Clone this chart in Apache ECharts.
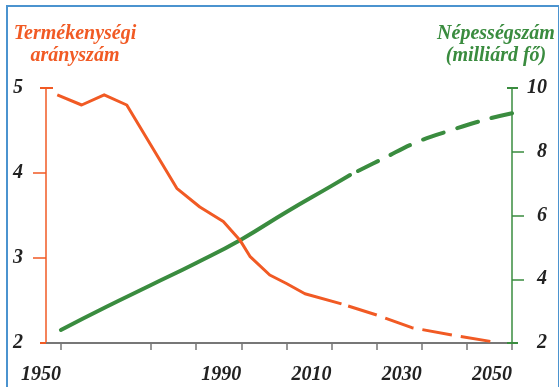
<!DOCTYPE html>
<html>
<head>
<meta charset="utf-8">
<script src="https://cdn.jsdelivr.net/npm/echarts@6/dist/echarts.min.js"></script>
<style>
  html, body { margin: 0; padding: 0; background: #fff; }
  #chart { position: absolute; left: 0; top: 0; width: 559px; height: 387px; }
  #frame { position: absolute; left: 6px; top: 5px; width: 550px; height: 400px;
           border: 2px solid #4b93cf; border-bottom: none; pointer-events: none; }
</style>
</head>
<body>
<div id="chart"></div>
<div id="frame"></div>
<script>
// Fertility rate (left axis) — observed and projected
var fertYears      = [1949.2, 1954.6, 1959.6, 1964.6, 1975.7, 1980.8, 1986.0, 1989.7, 1991.9, 1996.3, 2000.0, 2004.1, 2012.2];
var fertValues     = [4.92,   4.80,   4.92,   4.80,   3.82,   3.60,   3.43,   3.21,   3.02,   2.80,   2.70,   2.58,   2.46];
var fertProjYears  = [2012.2, 2020.0, 2027.8, 2037.0, 2045.7];
var fertProjValues = [2.46,   2.33,   2.18,   2.09,   2.015];

// Population, billions (right axis) — observed and projected
var popYears      = [1950.0, 1960.0, 1970.0, 1980.0, 1990.0, 2000.0, 2010.0, 2014.1];
var popValues     = [2.41,   3.13,   3.82,   4.51,   5.25,   6.11,   6.93,   7.27];
var popProjYears  = [2014.1, 2021.5, 2029.2, 2036.6, 2044.4, 2050.0];
var popProjValues = [7.27,   7.79,   8.32,   8.68,   9.02,   9.21];

var xTickYears  = [1950, 1970, 1980, 1990, 2000, 2010, 2020, 2030, 2040, 2050];
var xLabelYears = [1950, 1990, 2010, 2030, 2050];
var leftTicks   = [3, 4];
var rightTicks  = [4, 6, 8];

function pairs(xs, ys) { return xs.map(function (x, i) { return [x, ys[i]]; }); }

var ORANGE = '#f15a24', GREEN = '#3a8c3f';
var numFont = { fontFamily: 'Liberation Serif', fontStyle: 'italic', fontWeight: 'bold', fontSize: 20, color: '#222' };

var chart = echarts.init(document.getElementById('chart'), null, { renderer: 'canvas' });
chart.setOption({
  animation: false,
  backgroundColor: '#fff',
  title: [
    { text: 'Termékenységi\narányszám', left: 75, top: 23, textAlign: 'center', padding: 0,
      textStyle: { fontFamily: 'Liberation Serif', fontStyle: 'italic', fontWeight: 'bold', fontSize: 20, lineHeight: 22, color: ORANGE, align: 'center' } },
    { text: 'Népességszám\n(milliárd fő)', left: 496, top: 23, textAlign: 'center', padding: 0,
      textStyle: { fontFamily: 'Liberation Serif', fontStyle: 'italic', fontWeight: 'bold', fontSize: 20, lineHeight: 22, color: GREEN, align: 'center' } }
  ],
  grid: { left: 46, right: 47, top: 88, bottom: 44 },
  xAxis: {
    type: 'value', min: 1946.7, max: 2050,
    axisLine: { show: true, lineStyle: { color: '#777', width: 2 } },
    axisTick: { show: true, customValues: xTickYears, length: 7, lineStyle: { color: '#777', width: 1.5 } },
    axisLabel: Object.assign({ customValues: xLabelYears, align: 'right', margin: 22,
      formatter: function (v) { return String(Math.round(v)); } }, numFont),
    splitLine: { show: false }
  },
  yAxis: [
    { type: 'value', position: 'left', min: 2, max: 5, interval: 1,
      axisLine: { show: true, lineStyle: { color: ORANGE, width: 1.5 } },
      axisTick: { show: true, customValues: leftTicks, length: 13, lineStyle: { color: ORANGE, width: 1.5 } },
      axisLabel: Object.assign({ margin: 23 }, numFont),
      splitLine: { show: false } },
    { type: 'value', position: 'right', min: 2, max: 10, interval: 2,
      axisLine: { show: true, lineStyle: { color: GREEN, width: 1.5 } },
      axisTick: { show: true, customValues: rightTicks, length: 12, lineStyle: { color: GREEN, width: 1.5 } },
      axisLabel: Object.assign({ margin: 35, align: 'right' }, numFont),
      splitLine: { show: false } },
    { type: 'value', position: 'left', min: 2, max: 5, interval: 1, z: 5,
      axisLine: { show: false }, axisLabel: { show: false }, splitLine: { show: false },
      axisTick: { show: true, customValues: [2, 5], length: 6, lineStyle: { color: ORANGE, width: 2 } } },
    { type: 'value', position: 'left', min: 2, max: 5, interval: 1, z: 5,
      axisLine: { show: false }, axisLabel: { show: false }, splitLine: { show: false },
      axisTick: { show: true, inside: true, customValues: [5], length: 7, lineStyle: { color: ORANGE, width: 2 } } },
    { type: 'value', position: 'right', min: 2, max: 10, interval: 2, z: 5,
      axisLine: { show: false }, axisLabel: { show: false }, splitLine: { show: false },
      axisTick: { show: true, customValues: [2, 10], length: 6, lineStyle: { color: GREEN, width: 2 } } },
    { type: 'value', position: 'right', min: 2, max: 10, interval: 2, z: 5,
      axisLine: { show: false }, axisLabel: { show: false }, splitLine: { show: false },
      axisTick: { show: true, inside: true, customValues: [2, 10], length: 5, lineStyle: { color: GREEN, width: 2 } } }
  ],
  series: [
    { type: 'line', yAxisIndex: 0, data: pairs(fertYears, fertValues), showSymbol: false, symbol: 'none',
      lineStyle: { color: ORANGE, width: 3, join: 'round' }, z: 3 },
    { type: 'line', yAxisIndex: 0, data: pairs(fertProjYears, fertProjValues), showSymbol: false, symbol: 'none',
      lineStyle: { color: ORANGE, width: 3, type: [30, 9], dashOffset: 32 }, z: 3 },
    { type: 'line', yAxisIndex: 1, data: pairs(popYears, popValues), showSymbol: false, symbol: 'none', smooth: 0.5,
      lineStyle: { color: GREEN, width: 4, cap: 'round', join: 'round' }, z: 2 },
    { type: 'line', yAxisIndex: 1, data: pairs(popProjYears, popProjValues), showSymbol: false, symbol: 'none', smooth: 0.4,
      lineStyle: { color: GREEN, width: 4, cap: 'round', type: [22, 14], dashOffset: 27 }, z: 2 }
  ]
});
</script>
</body>
</html>
